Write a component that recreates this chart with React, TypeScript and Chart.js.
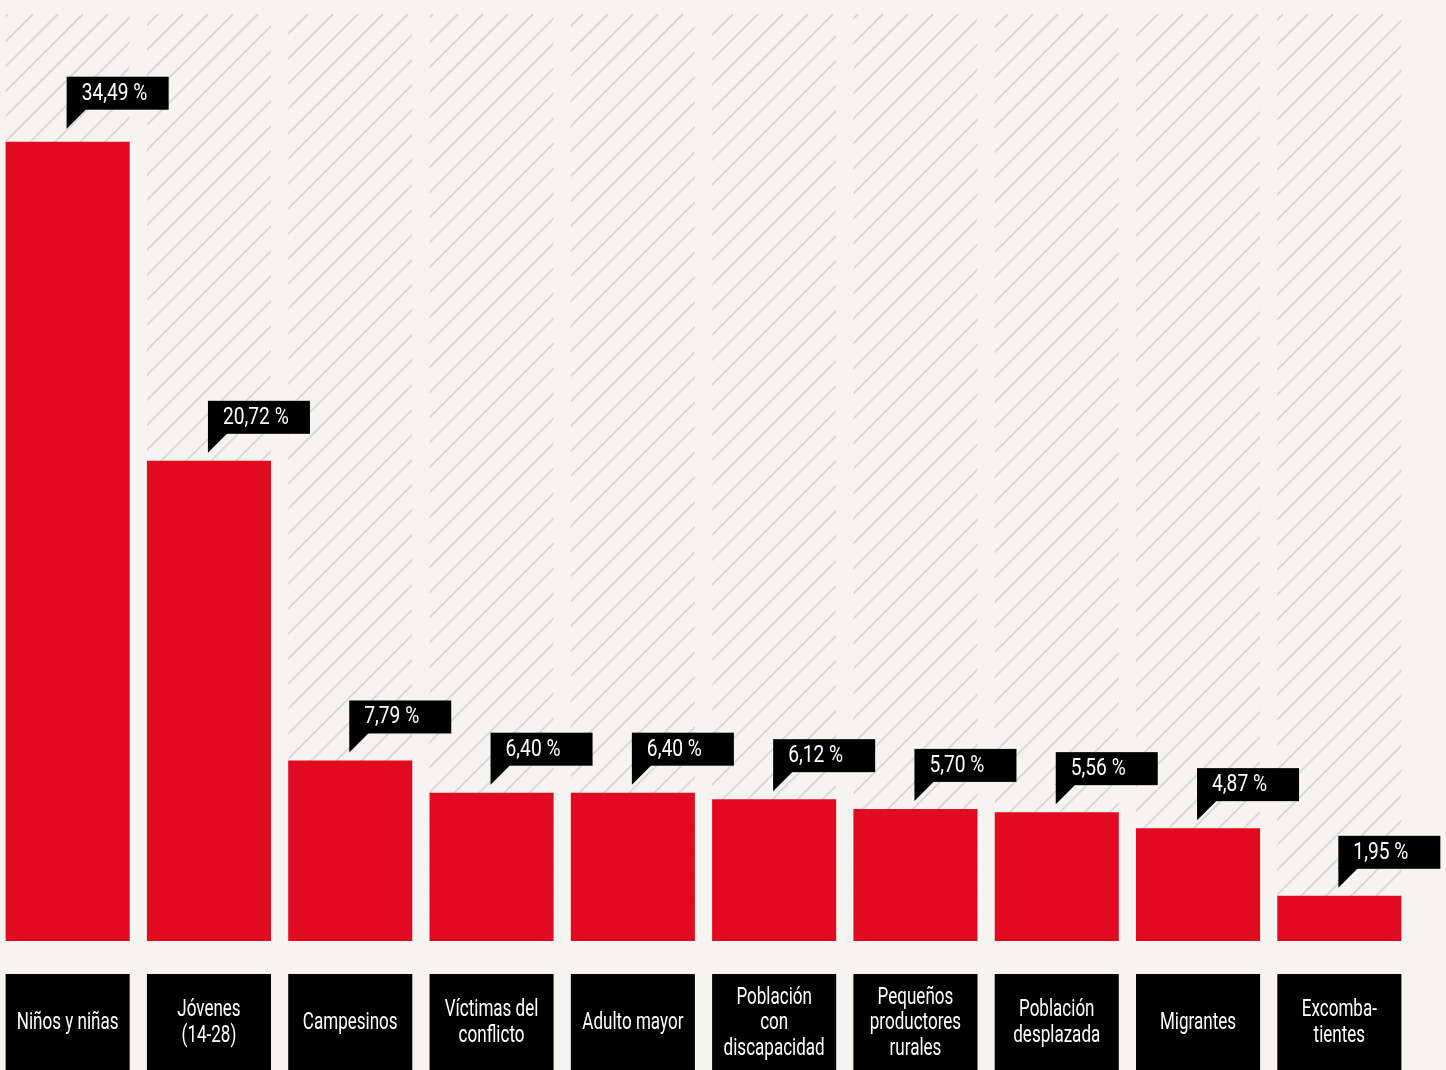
import React, { useEffect, useRef } from "react";
import { Chart, registerables } from "chart.js";

Chart.register(...registerables);

const categories: string[][] = [
  ["Niños y niñas"],
  ["Jóvenes", "(14-28)"],
  ["Campesinos"],
  ["Víctimas del", "conflicto"],
  ["Adulto mayor"],
  ["Población", "con", "discapacidad"],
  ["Pequeños", "productores", "rurales"],
  ["Población", "desplazada"],
  ["Migrantes"],
  ["Excomba-", "tientes"],
];
const values = [34.49, 20.72, 7.79, 6.4, 6.4, 6.12, 5.7, 5.56, 4.87, 1.95];
const yMin = 0;
const yMax = 40;

const fmt = (v: number) => v.toFixed(2).replace(".", ",") + " %";

const FONT = '"Roboto", "DejaVu Sans", sans-serif';

function squeezeText(ctx: CanvasRenderingContext2D, text: string, x: number, y: number, sx: number) {
  ctx.save();
  ctx.translate(x, y);
  ctx.scale(sx, 1);
  ctx.fillText(text, 0, 0);
  ctx.restore();
}

const decorPlugin = {
  id: "decor",
  beforeDatasetsDraw(chart: any) {
    const { ctx, chartArea } = chart;
    const meta = chart.getDatasetMeta(0);
    ctx.save();
    ctx.strokeStyle = "#d7d7d5";
    ctx.lineWidth = 1.8;
    meta.data.forEach((el: any) => {
      const left = el.x - el.width / 2;
      const right = el.x + el.width / 2;
      ctx.save();
      ctx.beginPath();
      ctx.rect(left, chartArea.top, right - left, chartArea.bottom - chartArea.top);
      ctx.clip();
      ctx.beginPath();
      const step = 25;
      const cStart = Math.floor((left + chartArea.top) / step) * step;
      for (let c = cStart; c <= right + chartArea.bottom + step; c += step) {
        ctx.moveTo(c - chartArea.bottom, chartArea.bottom);
        ctx.lineTo(c - chartArea.top, chartArea.top);
      }
      ctx.stroke();
      ctx.restore();
    });
    ctx.restore();
  },
  afterDatasetsDraw(chart: any) {
    const { ctx, chartArea } = chart;
    const meta = chart.getDatasetMeta(0);
    ctx.save();
    meta.data.forEach((el: any, i: number) => {
      const left = el.x - el.width / 2;
      const w = el.width;
      // value callout
      const bx = el.x - 1;
      const bBottom = el.y - (i === 0 ? 32 : 27);
      const bTop = bBottom - 33;
      ctx.fillStyle = "#000";
      ctx.fillRect(bx, bTop, 102, 33);
      ctx.beginPath();
      ctx.moveTo(bx, bBottom - 1);
      ctx.lineTo(bx + 20, bBottom - 1);
      ctx.lineTo(bx, bBottom + 19);
      ctx.closePath();
      ctx.fill();
      ctx.fillStyle = "#fff";
      ctx.font = "24px " + FONT;
      ctx.textAlign = "left";
      ctx.textBaseline = "middle";
      squeezeText(ctx, fmt(values[i]), bx + 15, bTop + 17, 0.8);
      // category box
      const cTop = chartArea.bottom + 33;
      ctx.fillStyle = "#000";
      ctx.fillRect(left, cTop, w, 110);
      ctx.fillStyle = "#fff";
      ctx.textAlign = "center";
      ctx.font = "24px " + FONT;
      const lines = categories[i];
      const lh = 25.5;
      const cy = chartArea.bottom + 82;
      lines.forEach((ln, j) => {
        const y = cy + (j - (lines.length - 1) / 2) * lh;
        squeezeText(ctx, ln, el.x, y, 0.71);
      });
    });
    ctx.restore();
  },
};

export default function App() {
  const ref = useRef<HTMLCanvasElement | null>(null);
  useEffect(() => {
    if (!ref.current) return;
    const chart = new Chart(ref.current, {
      type: "bar",
      data: {
        labels: categories.map((c) => c.join(" ")),
        datasets: [
          {
            data: values,
            backgroundColor: "#e20a21",
            barPercentage: 0.878,
            categoryPercentage: 1,
          },
        ],
      },
      options: {
        animation: false,
        responsive: true,
        maintainAspectRatio: false,
        layout: { padding: { top: 14, bottom: 129, left: 0, right: 36 } },
        plugins: { legend: { display: false }, tooltip: { enabled: false } },
        scales: {
          x: { display: false, offset: true, grid: { display: false } },
          y: { display: false, min: yMin, max: yMax, grid: { display: false } },
        },
      },
      plugins: [decorPlugin],
    });
    return () => chart.destroy();
  }, []);
  return (
    <div
      style={{
        position: "absolute",
        left: 0,
        top: 0,
        width: 1446,
        height: 1070,
        overflow: "hidden",
        background: "#f5f4f0",
      }}
    >
      <div style={{ position: "absolute", left: -3, top: 0, width: 1449, height: 1070 }}>
        <canvas ref={ref} />
      </div>
    </div>
  );
}
